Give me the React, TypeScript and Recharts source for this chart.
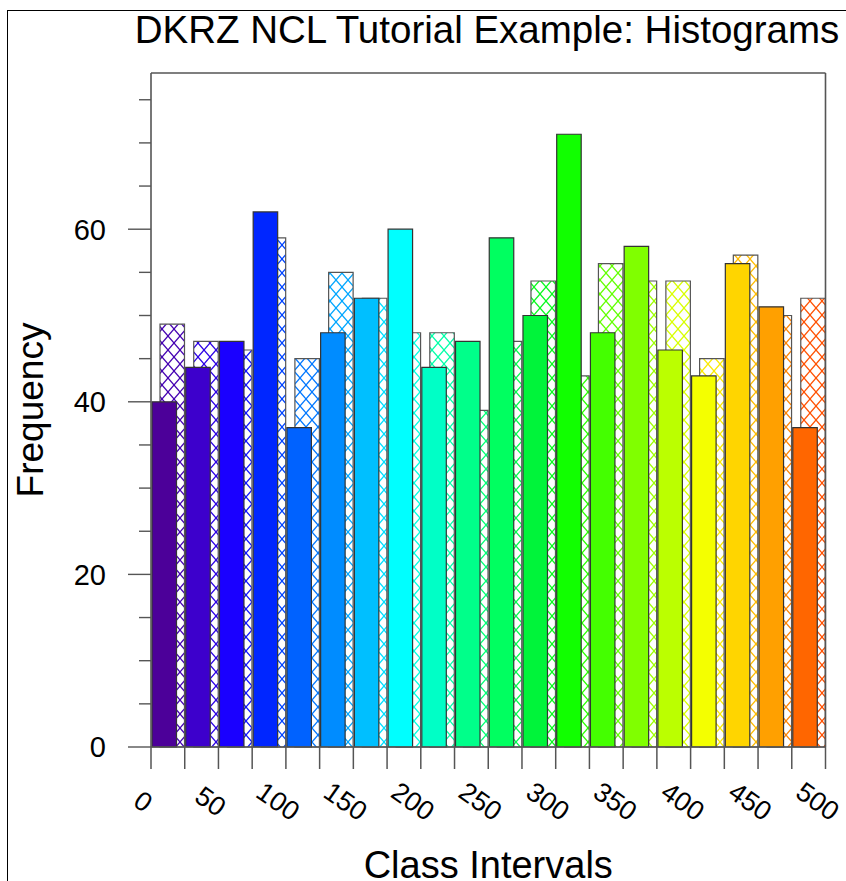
import React from 'react';
import { BarChart, Bar, XAxis, YAxis, Cell } from 'recharts';

// ---- data ----
const classMidpoints = [12.5, 37.5, 62.5, 87.5, 112.5, 137.5, 162.5, 187.5, 212.5, 237.5, 262.5, 287.5, 312.5, 337.5, 362.5, 387.5, 412.5, 437.5, 462.5, 487.5];
const solidFrequency = [40, 44, 47, 62, 37, 48, 52, 60, 44, 47, 59, 50, 71, 48, 58, 46, 43, 56, 51, 37];
const hatchedFrequency = [49, 47, 46, 59, 45, 55, 52, 48, 48, 39, 47, 54, 43, 56, 54, 54, 45, 57, 50, 52];
const xTicks = [0, 25, 50, 75, 100, 125, 150, 175, 200, 225, 250, 275, 300, 325, 350, 375, 400, 425, 450, 475, 500];
const xLabelTicks = [0, 50, 100, 150, 200, 250, 300, 350, 400, 450, 500];
const yTicks = [0, 5, 10, 15, 20, 25, 30, 35, 40, 45, 50, 55, 60, 65, 70, 75];
const yLabelTicks = [0, 20, 40, 60];
const yDomain = [0, 78.1];
const xDomain = [0, 500];
const solidColors = ['#4C0099', '#3D00CC', '#1A00FF', '#0026FF', '#0062FF', '#008CFF', '#00BFFF', '#00FFFF', '#00FFC6', '#00FF8A', '#00FF60', '#00F43A', '#11FF00', '#44FF00', '#80FF00', '#BBFF00', '#F4FF00', '#FFD500', '#FFA000', '#FF6600'];
const hatchColors = ['#4400B2', '#2B00E6', '#0D13FF', '#0044FF', '#0077FF', '#00A6FF', '#00DFFF', '#00FFE2', '#00FFA8', '#00FF75', '#00FA4D', '#08F91D', '#2AFF00', '#62FF00', '#9EFF00', '#D8FF00', '#FAEA00', '#FFBB00', '#FF8300', '#FF5000'];

const title = 'DKRZ NCL Tutorial Example: Histograms';
const xTitle = 'Class Intervals';
const yTitle = 'Frequency';

const rows = classMidpoints.map((x, i) => ({ x, solid: solidFrequency[i], hatched: hatchedFrequency[i] }));

const FONT = '"Liberation Sans", Arial, Helvetica, sans-serif';
const AXIS = '#555';

const XTick = (props: any) => {
  const { x, y, payload } = props;
  const v = payload.value;
  const show = xLabelTicks.includes(v);
  const cx = x - 7.5;
  const cy = y + 54;
  return (
    <g>
      <line x1={x} y1={y} x2={x} y2={y + 22} stroke={AXIS} strokeWidth={1.5} />
      {show && (
        <text x={cx} y={cy} dy="0.36em" textAnchor="middle" fontFamily={FONT} fontSize={27} fill="#000"
          transform={`rotate(35, ${cx}, ${cy})`}>{v}</text>
      )}
    </g>
  );
};

const LeftTick = (props: any) => {
  const { x, y, payload } = props;
  const major = yLabelTicks.includes(payload.value);
  return (
    <g>
      <line x1={x - (major ? 23 : 12)} y1={y} x2={x} y2={y} stroke={AXIS} strokeWidth={1.4} />
      {major && (
        <text x={x - 45} y={y} dy="0.36em" textAnchor="end" fontFamily={FONT} fontSize={29} fill="#000">{payload.value}</text>
      )}
    </g>
  );
};

const RightTick = (props: any) => {
  const { x, y, payload } = props;
  const major = yLabelTicks.includes(payload.value);
  return <line x1={x} y1={y} x2={x + (major ? 22 : 12)} y2={y} stroke={AXIS} strokeWidth={1.4} />;
};

export default function App() {
  return (
    <div style={{ position: 'absolute', left: 0, top: 0, width: 846, height: 881, background: '#fff', overflow: 'hidden' }}>
      <div style={{ position: 'absolute', left: 7, top: 10, width: 846 - 7, height: 881 - 10, borderLeft: '1.5px solid #000', borderTop: '1.5px solid #000', boxSizing: 'border-box' }} />
      <BarChart width={846} height={881} data={rows} margin={{ top: 0, right: 0, bottom: 0, left: 0 }} barGap={-32.5} style={{ position: 'absolute', left: 0, top: 0 }}>
        <defs>
          {hatchColors.map((c, i) => (
            <pattern key={i} id={`hatch${i}`} patternUnits="userSpaceOnUse" width={12} height={14}>
              <rect x={0} y={0} width={12} height={14} fill="#fff" />
              <line x1={0} y1={0} x2={12} y2={14} stroke={c} strokeWidth={1.3} />
              <line x1={12} y1={0} x2={0} y2={14} stroke={c} strokeWidth={1.3} />
            </pattern>
          ))}
        </defs>
        <text x={487} y={43} textAnchor="middle" fontFamily={FONT} fontSize={38.5} fill="#000">{title}</text>
        <XAxis xAxisId="bottom" dataKey="x" type="number" domain={xDomain} ticks={xTicks} interval={0}
          height={134} tickSize={0} tickMargin={0} tick={<XTick />} tickLine={false}
          axisLine={{ stroke: AXIS, strokeWidth: 1.6 }}
          label={(p: any) => {
            const vb = p.viewBox;
            return <text x={vb.x + vb.width / 2} y={vb.y + 131} textAnchor="middle" fontFamily={FONT} fontSize={38} fill="#000">{xTitle}</text>;
          }} />
        <XAxis xAxisId="top" orientation="top" dataKey="x" type="number" domain={xDomain} ticks={xTicks}
          height={73} tick={false} tickLine={false} axisLine={{ stroke: AXIS, strokeWidth: 1.6 }} />
        <YAxis yAxisId="left" type="number" domain={yDomain} ticks={yTicks} interval={0} width={151}
          tickSize={0} tickMargin={0} tick={<LeftTick />} tickLine={false}
          axisLine={{ stroke: AXIS, strokeWidth: 1.6 }}
          label={(p: any) => {
            const vb = p.viewBox;
            const cx = vb.x + 43;
            const cy = vb.y + vb.height / 2;
            return <text x={cx} y={cy} textAnchor="middle" fontFamily={FONT} fontSize={37} fill="#000" transform={`rotate(-90, ${cx}, ${cy})`}>{yTitle}</text>;
          }} />
        <YAxis yAxisId="right" orientation="right" type="number" domain={yDomain} ticks={yTicks} interval={0} width={20.5}
          tickSize={0} tickMargin={0} tick={<RightTick />} tickLine={false}
          axisLine={{ stroke: AXIS, strokeWidth: 1.6 }} />
        <Bar xAxisId="bottom" yAxisId="left" dataKey="hatched" barSize={24.5} stroke="#555" strokeWidth={1.2} isAnimationActive={false}>
          {rows.map((_, i) => <Cell key={i} fill={`url(#hatch${i})`} />)}
        </Bar>
        <Bar xAxisId="bottom" yAxisId="left" dataKey="solid" barSize={24.5} stroke="#333" strokeWidth={1.2} isAnimationActive={false}>
          {rows.map((_, i) => <Cell key={i} fill={solidColors[i]} />)}
        </Bar>
      </BarChart>
    </div>
  );
}
